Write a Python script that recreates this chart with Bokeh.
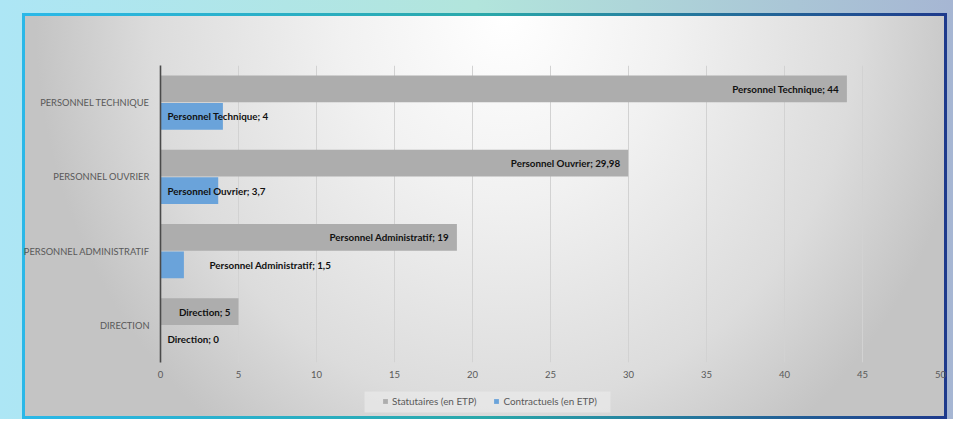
from bokeh.plotting import figure
from bokeh.layouts import column
from bokeh.models import ColumnDataSource, Range1d, FactorRange, FixedTicker, Legend, LegendItem, BoxAnnotation
from bokeh.transform import dodge
from bokeh.core.properties import value
from bokeh.embed import file_html
from bokeh.resources import INLINE

# ---- data ----
categories = ["DIRECTION", "PERSONNEL ADMINISTRATIF", "PERSONNEL OUVRIER", "PERSONNEL TECHNIQUE"]
statutaires = [5, 19, 29.98, 44]
contractuels = [0, 1.5, 3.7, 4]
x_ticks = [0, 5, 10, 15, 20, 25, 30, 35, 40, 45, 50]
series_names = ["Statutaires (en ETP)", "Contractuels (en ETP)"]

def fmt(v):
    return str(int(v)) if float(v).is_integer() else str(v).replace(".", ",")

names = [c.title() for c in categories]
stat_labels = [f"{n}; {fmt(v)}" for n, v in zip(names, statutaires)]
contr_labels = [f"{n}; {fmt(v)}" for n, v in zip(names, contractuels)]
contr_label_dx = [7, 49, 7, 7]  # label placement offsets (px)

src = ColumnDataSource(dict(cat=categories, stat=statutaires, contr=contractuels,
                            stat_lab=stat_labels, contr_lab=contr_labels,
                            zero=[0] * len(categories), cdx=contr_label_dx))

FONT = "Lato"
GREY_TXT = "#595959"
STAT_COLOR = "#adadad"
CONTR_COLOR = "#6aa3da"

bg = ("radial-gradient(470px 520px at 480px 0px, #ffffff 0%, #f1f1f1 35%, #dcdcdc 75%, #c4c4c4 100%) 25px 16px / 919px 400px no-repeat, "
      "linear-gradient(to right, #2ab8e8 0%, #2aa8aa 50%, #1e3a8c 100%) 22px 13px / 925px 406px no-repeat, "
      "linear-gradient(to right, #ade6f5 0%, #b2e5dc 50%, #a6b6d3 100%)")

p = figure(width=953, height=390, output_backend="svg", toolbar_location=None,
           y_range=FactorRange(*categories), x_range=Range1d(0, 50),
           min_border_left=160, min_border_right=13, min_border_top=65, min_border_bottom=28)
p.border_fill_alpha = 0
p.background_fill_alpha = 0
p.outline_line_color = None

off = 0.185
h = 0.36
p.hbar(y=dodge("cat", off, range=p.y_range), right="stat", left=0, height=h,
       source=src, fill_color=STAT_COLOR, line_color=None)
p.hbar(y=dodge("cat", -off, range=p.y_range), right="contr", left=0, height=h,
       source=src, fill_color=CONTR_COLOR, line_color=None)

p.text(x="stat", y=dodge("cat", off, range=p.y_range), text="stat_lab", source=src,
       text_align="right", text_baseline="middle", x_offset=-8,
       text_font=value(FONT), text_font_style="bold", text_font_size="9.8px", text_color="#111111")
p.text(x="zero", y=dodge("cat", -off, range=p.y_range), text="contr_lab", source=src,
       text_align="left", text_baseline="middle", x_offset="cdx",
       text_font=value(FONT), text_font_style="bold", text_font_size="9.8px", text_color="#111111")

# axes
p.xaxis.ticker = FixedTicker(ticks=x_ticks)
p.xaxis.axis_line_color = None
p.xaxis.major_tick_line_color = None
p.xaxis.minor_tick_line_color = None
p.xaxis.major_tick_out = 0
p.xaxis.major_tick_in = 0
p.xaxis.major_label_standoff = 8
p.xaxis.major_label_text_font = FONT
p.xaxis.major_label_text_font_size = "9.5px"
p.xaxis.major_label_text_color = GREY_TXT

p.yaxis.axis_line_color = "#4a4a4a"
p.yaxis.axis_line_width = 1.6
p.yaxis.major_tick_line_color = None
p.yaxis.minor_tick_line_color = None
p.yaxis.major_tick_out = 0
p.yaxis.major_tick_in = 0
p.yaxis.major_label_standoff = 11
p.yaxis.major_label_text_font = FONT
p.yaxis.major_label_text_font_size = "9.3px"
p.yaxis.major_label_text_color = GREY_TXT

p.xgrid.grid_line_color = "#d2d2d2"
p.xgrid.grid_line_width = 1
p.ygrid.grid_line_color = None

# legend strip (same borders as the main plot so the column keeps the frames aligned)
lg = figure(width=953, height=29, output_backend="svg", toolbar_location=None,
            x_range=Range1d(0, 1), y_range=Range1d(0, 1),
            x_axis_location=None, y_axis_location=None,
            min_border_left=160, min_border_right=13, min_border_top=0, min_border_bottom=0)
lg.grid.visible = False
lg.border_fill_alpha = 0
lg.background_fill_alpha = 0
lg.outline_line_color = None
lg.add_layout(BoxAnnotation(left=204, right=450, top=28, bottom=7,
                            left_units="screen", right_units="screen",
                            top_units="screen", bottom_units="screen",
                            fill_color="#e9e9e9", fill_alpha=0.7, line_color=None))
nan = float("nan")
empty = ColumnDataSource(dict(y=[nan], right=[nan]))
l1 = lg.hbar(y="y", right="right", height=1, source=empty, fill_color=STAT_COLOR, line_color=None)
l2 = lg.hbar(y="y", right="right", height=1, source=empty, fill_color=CONTR_COLOR, line_color=None)
legend = Legend(items=[LegendItem(label=series_names[0], renderers=[l1]),
                       LegendItem(label=series_names[1], renderers=[l2])],
                orientation="horizontal", location=(222, 12),
                background_fill_alpha=0, border_line_color=None,
                glyph_width=6, glyph_height=6,
                label_standoff=4, spacing=17, padding=0, margin=0,
                label_text_font=FONT, label_text_font_size="9.9px", label_text_color=GREY_TXT,
                label_height=11)
lg.add_layout(legend, "center")

page = column(p, lg, spacing=0, width=953, height=419, styles={"background": bg})

open("out.html", "w").write(file_html(page, INLINE))
